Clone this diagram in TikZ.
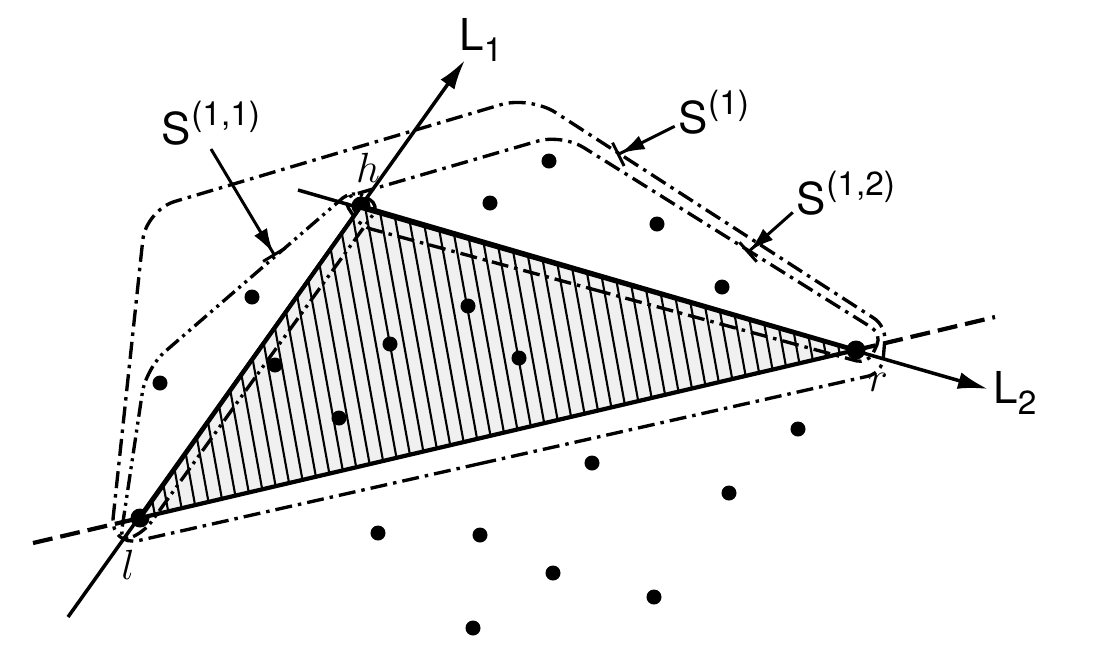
\documentclass[tikz,border=0pt]{standalone}
\usepackage{fontspec}
\newfontfamily\figsans{TeX Gyre Heros}
\usetikzlibrary{arrows.meta}
\newcommand{\withsup}[2]{#1\raisebox{0.8ex}{\fontsize{9.5}{10}\selectfont#2}}
\newcommand{\withsub}[2]{#1\raisebox{-0.45ex}{\fontsize{9.5}{10}\selectfont#2}}

\begin{document}
\begin{tikzpicture}[
  x=0.01cm, y=-0.01cm,
  ptdot/.style={circle, fill=black, inner sep=0pt, minimum size=0.15cm},
  hulldot/.style={circle, fill=black, inner sep=0pt, minimum size=0.19cm},
  hulledge/.style={line width=1.2pt, line join=round},
  hatchline/.style={line width=0.6pt},
  axisarrow/.style={-{Latex[length=0.3cm,width=0.17cm]}, line width=1pt},
  baseline/.style={line width=1.2pt, dash pattern=on 0.2cm off 0.08cm},
  setline/.style={line width=0.95pt, dash pattern=on 0.17cm off 0.06cm on 0.035cm off 0.06cm},
  subsetline/.style={line width=0.95pt, dash pattern=on 0.16cm off 0.05cm on 0.03cm off 0.05cm on 0.03cm off 0.05cm},
  setarrow/.style={-{Latex[length=0.25cm,width=0.15cm,sep=0pt]Bar[width=0.26cm]}, line width=0.85pt},
  setlabel/.style={font=\figsans\fontsize{12.5}{14}\selectfont, inner sep=1pt},
  ptlabel/.style={font=\fontsize{12.5}{14}\selectfont, inner sep=1pt}
]
\useasboundingbox (0,0) rectangle (1108,644);

% -------- HULL VERTICES --------
\node[hulldot] (l) at (140,518) {};
\node[hulldot] (h) at (361,206) {};
\node[hulldot] (r) at (856,350) {};

% -------- HATCHED TRIANGLE --------
\begin{scope}
  \clip (l.center) -- (h.center) -- (r.center) -- cycle;
  \fill[gray!12] (100,150) rectangle (900,560);
  \foreach \x in {40,54,...,900}
    \draw[hatchline] (\x,190) -- (\x+67,560);
\end{scope}

% -------- CONTOURS --------
% S(1): points above the line l-r
\draw[setline, rounded corners=0.3cm] (496,460) -- (110,547) -- (146,210) -- (530,96)
  [rounded corners=0.14cm] -- (886,326) -- (882,373) -- cycle;
% S(1,1): left of L1
\draw[subsetline, rounded corners=0.12cm] (262,368) -- (144,532) -- (120,542)
  [rounded corners=0.25cm] -- (146,368) [rounded corners=0.12cm] -- (352,190) -- (380,205) -- cycle;
% S(1,2): right of h-r
\draw[setline, rounded corners=0.12cm] (614,295) -- (360,226) -- (342,198)
  [rounded corners=0.25cm] -- (562,134) [rounded corners=0.12cm] -- (882,334) -- (868,364) -- cycle;

\draw[hulledge] (l.center) -- (h.center) -- (r.center) -- cycle;

% -------- LINES L1, L2 AND BASE LINE --------
\coordinate (L1tail) at (68,617);
\coordinate (L1head) at (465,60);
\coordinate (L2tail) at (298,190);
\coordinate (L2head) at (988,389);
\coordinate (basewest) at (33,543);
\coordinate (baseeast) at (995,317);

\draw[axisarrow] (L1tail) -- (L1head);
\draw[axisarrow] (L2tail) -- (L2head);
\draw[baseline] (basewest) -- (l.center);
\draw[baseline] (r.center) -- (baseeast);

% -------- OTHER POINTS --------
\foreach \px/\py [count=\i] in {160/383, 252/297, 275/365, 390/344, 468/306, 519/358,
    339/418, 490/203, 549/161, 657/224, 722/287, 798/429, 592/463, 729/493,
    378/533, 480/535, 553/573, 654/597, 473/628}
  \node[ptdot] (p\i) at (\px,\py) {};

% -------- LABELS --------
\node[ptlabel] (hlbl) at (368,168) {$h$};
\node[ptlabel] (llbl) at (128,565) {$l$};
\node[ptlabel] (rlbl) at (878,382) {$r$};
\node[setlabel] (L1lbl) at (481,40) {\withsub{L}{1}};
\node[setlabel] (L2lbl) at (1015,393) {\withsub{L}{2}};

\node[setlabel] (s11lbl) at (211,123) {\withsup{S}{(1,1)}};
\node[setlabel] (s1lbl) at (714,112) {\withsup{S}{(1)}};
\node[setlabel] (s12lbl) at (846,193) {\withsup{S}{(1,2)}};

\coordinate (s11tip) at (275,256);
\coordinate (s1tip) at (617,155);
\coordinate (s12tip) at (747,253);

\draw[setarrow] (s11lbl.south) -- (s11tip);
\draw[setarrow] (s1lbl.200) -- (s1tip);
\draw[setarrow] (s12lbl.200) -- (s12tip);

\end{tikzpicture}
\end{document}
